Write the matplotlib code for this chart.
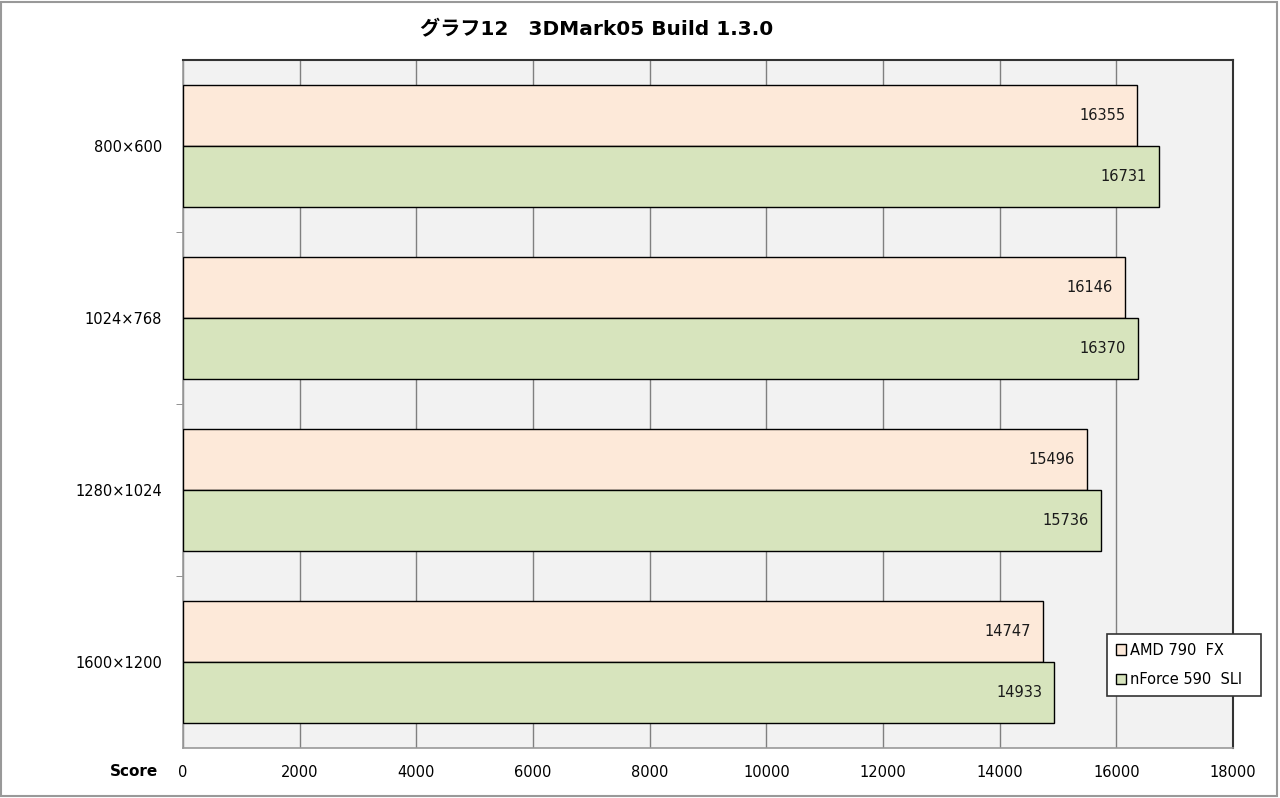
import matplotlib.pyplot as plt
import matplotlib.patches as mpatches
import numpy as np

plt.rcParams['font.family'] = 'DejaVu Sans'

# data
resolutions = ['800×600', '1024×768', '1280×1024', '1600×1200']
amd_790fx = [16355, 16146, 15496, 14747]
nforce_590sli = [16731, 16370, 15736, 14933]
series_names = ['AMD 790  FX', 'nForce 590  SLI']
xticks = np.arange(0, 18001, 2000)

fig = plt.figure(figsize=(12.8, 7.98), dpi=100)
ax = fig.add_axes([183/1280, 50/798, 1050/1280, 688/798])
ax.set_facecolor('#F2F2F2')

y = np.arange(len(resolutions))
bh = 0.355
c_amd = '#FDE9D9'
c_nf = '#D7E4BD'

b1 = ax.barh(y - bh/2, amd_790fx, height=bh, color=c_amd, edgecolor='black', linewidth=1.0, zorder=3)
b2 = ax.barh(y + bh/2, nforce_590sli, height=bh, color=c_nf, edgecolor='black', linewidth=1.0, zorder=3)

for bars, vals in ((b1, amd_790fx), (b2, nforce_590sli)):
    for rect, v in zip(bars, vals):
        ax.annotate(str(v), (v, rect.get_y() + rect.get_height()/2),
                    xytext=(-8.5, 0), textcoords='offset points',
                    ha='right', va='center', fontsize=10.5, color='#1a1a1a', zorder=4)

ax.set_xlim(0, 18000)
ax.set_ylim(len(resolutions) - 0.5, -0.5)
ax.set_xticks(xticks)
ax.set_xticklabels([str(t) for t in xticks], fontsize=10.5)
ax.tick_params(axis='x', length=0, pad=12)
ax.xaxis.grid(True, color='#808080', linewidth=1.0, zorder=1)

ax.set_yticks(y)
ax.set_yticklabels(resolutions, fontsize=10.5)
ax.tick_params(axis='y', length=0, pad=15)
ax.set_yticks(np.arange(0.5, len(resolutions) - 1, 1.0), minor=True)
ax.tick_params(axis='y', which='minor', length=5, color='#808080')

for side in ('top', 'right'):
    ax.spines[side].set_color('#333333')
    ax.spines[side].set_linewidth(1.5)
for side in ('left', 'bottom'):
    ax.spines[side].set_color('#999999')
    ax.spines[side].set_linewidth(1.2)

fig.text(134/1280, 1 - 771/798, 'Score', ha='center', va='center', fontsize=11, fontweight='bold')

fig.text(597/1280, 1 - 30/798, 'グラフ12　3DMark05 Build 1.3.0', ha='center', va='center',
         fontsize=14.5, fontweight='bold', family=['DejaVu Sans', 'Noto Sans CJK JP'])

handles = [mpatches.Patch(facecolor=c_amd, edgecolor='black', linewidth=1.0),
           mpatches.Patch(facecolor=c_nf, edgecolor='black', linewidth=1.0)]
leg = ax.legend(handles, series_names, loc='lower left',
                bbox_to_anchor=((1107 - 183)/1050, (748 - 696)/688, (1261 - 1107)/1050, (696 - 635)/688),
                mode='expand', fontsize=10.5, handlelength=0.7, handleheight=0.7, handletextpad=0.3,
                borderpad=0.6, labelspacing=1.0, fancybox=False, framealpha=1.0, borderaxespad=0)
leg.get_frame().set_edgecolor('#333333')
leg.get_frame().set_linewidth(1.2)

fig.patches.append(mpatches.Rectangle((0.001, 0.002), 1276/1280, 0.995, transform=fig.transFigure,
                                      fill=False, edgecolor='#999999', linewidth=1.5))

fig.savefig('out.png', dpi=100)
